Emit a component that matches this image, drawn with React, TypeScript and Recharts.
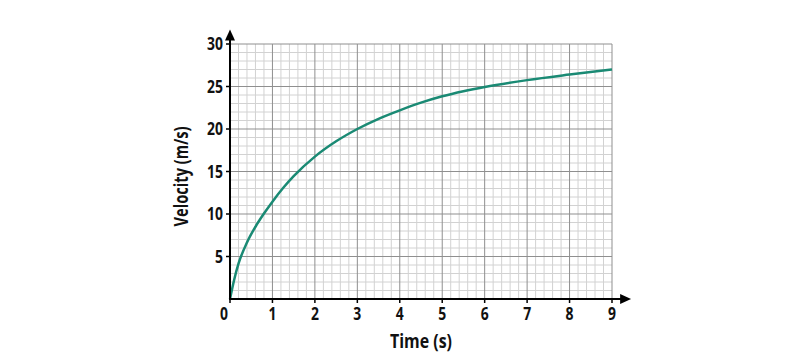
import React from 'react';
import { LineChart, Line, XAxis, YAxis, ReferenceLine } from 'recharts';

const timeS = [0, 0.1, 0.2, 0.4, 0.6, 0.8, 1, 1.25, 1.5, 2, 2.5, 3, 3.5, 4, 4.5, 5, 5.5, 6, 7, 8, 9];
const velocity = [0, 2.3, 4.15, 6.65, 8.5, 10.05, 11.45, 13.05, 14.45, 16.75, 18.55, 20.0, 21.2, 22.2, 23.1, 23.85, 24.45, 24.95, 25.75, 26.4, 27.0];
const xTicks = [0, 1, 2, 3, 4, 5, 6, 7, 8, 9];
const yTicks = [5, 10, 15, 20, 25, 30];

const data = timeS.map((t, i) => ({ t, v: velocity[i] }));

const xMinor: number[] = [];
for (let i = 1; i <= 45; i++) if (i % 5 !== 0) xMinor.push(i / 5);
const yMinor: number[] = [];
for (let i = 1; i <= 30; i++) if (i % 5 !== 0) yMinor.push(i);
const xMajor = xTicks.filter((v) => v > 0);
const yMajor = yTicks;

const FONT = "'Open Sans', 'Noto Sans', 'DejaVu Sans', sans-serif";
const MINOR = '#d2d2d2';
const MAJOR = '#8f8f8f';
const CURVE = '#1a8a74';
const TEXT = '#111';

const XTick = (props: any) => {
  const { x, y, payload } = props;
  const dx = payload.value === 0 ? -6 : 0;
  return (
    <text
      transform={`translate(${x + dx} ${y + 15}) scale(0.82 1)`}
      x={0}
      y={0}
      textAnchor="middle"
      fontFamily={FONT}
      fontWeight="bold"
      fontSize={17}
      fill={TEXT}
    >
      {payload.value}
    </text>
  );
};

const YTick = (props: any) => {
  const { x, y, payload } = props;
  return (
    <text
      transform={`translate(${x} ${y + 6}) scale(0.82 1)`}
      x={0}
      y={0}
      textAnchor="end"
      fontFamily={FONT}
      fontWeight="bold"
      fontSize={17}
      fill={TEXT}
    >
      {payload.value}
    </text>
  );
};

const HArrow = (p: any) => {
  const { x1, y1, x2 } = p;
  return (
    <g>
      <line x1={x1 - 1} y1={y1} x2={x2 - 8} y2={y1} stroke="#000" strokeWidth={2} />
      <polygon points={`${x2},${y1} ${x2 - 11},${y1 - 5} ${x2 - 11},${y1 + 5}`} fill="#000" />
    </g>
  );
};

const VArrow = (p: any) => {
  const { x1, y1, y2 } = p;
  const top = Math.min(y1, y2);
  const bottom = Math.max(y1, y2);
  return (
    <g>
      <line x1={x1} y1={bottom + 1} x2={x1} y2={top + 8} stroke="#000" strokeWidth={2} />
      <polygon points={`${x1},${top} ${x1 - 5},${top + 11} ${x1 + 5},${top + 11}`} fill="#000" />
    </g>
  );
};

export default function App() {
  return (
    <LineChart width={784} height={356} data={data} margin={{ top: 36, right: 180, bottom: 35, left: 182 }}>
      <XAxis
        dataKey="t"
        type="number"
        domain={[0, 9]}
        ticks={xTicks}
        axisLine={false}
        tickLine={{ stroke: '#000', strokeWidth: 1.5 }}
        tickSize={4}
        tickMargin={2}
        tick={<XTick />}
        height={30}
        interval={0}
        label={{
          content: (lp: any) => {
            const vb = lp.viewBox;
            return (
              <text
                x={vb.x + vb.width / 2 - 31}
                y={340}
                textLength={62}
                lengthAdjust="spacingAndGlyphs"
                fontFamily={FONT}
                fontWeight="bold"
                fontSize={20}
                fill={TEXT}
              >
                Time (s)
              </text>
            );
          },
        }}
      />
      <YAxis
        type="number"
        domain={[0, 30]}
        ticks={yTicks}
        axisLine={false}
        tickLine={{ stroke: '#000', strokeWidth: 1.5 }}
        tickSize={4}
        tickMargin={3}
        tick={<YTick />}
        width={40}
        interval={0}
        label={{
          content: (lp: any) => {
            const vb = lp.viewBox;
            const cx = 180;
            const cy = vb.y + vb.height / 2 + 5;
            return (
              <text
                x={cx - 50}
                y={cy}
                transform={`rotate(-90 ${cx} ${cy})`}
                textLength={100}
                lengthAdjust="spacingAndGlyphs"
                fontFamily={FONT}
                fontWeight="bold"
                fontSize={20}
                fill={TEXT}
              >
                Velocity (m/s)
              </text>
            );
          },
        }}
      />
      {xMinor.map((v) => (
        <ReferenceLine key={'xm' + v} x={v} stroke={MINOR} strokeWidth={1} />
      ))}
      {yMinor.map((v) => (
        <ReferenceLine key={'ym' + v} y={v} stroke={MINOR} strokeWidth={1} />
      ))}
      {xMajor.map((v) => (
        <ReferenceLine key={'xM' + v} x={v} stroke={MAJOR} strokeWidth={1} />
      ))}
      {yMajor.map((v) => (
        <ReferenceLine key={'yM' + v} y={v} stroke={MAJOR} strokeWidth={1} />
      ))}
      <Line
        type="monotone"
        dataKey="v"
        stroke={CURVE}
        strokeWidth={2.5}
        dot={false}
        isAnimationActive={false}
      />
      <ReferenceLine
        segment={[{ x: 0, y: 0 }, { x: 9.45, y: 0 }]}
        ifOverflow="visible"
        shape={<HArrow />}
      />
      <ReferenceLine
        segment={[{ x: 0, y: 0 }, { x: 0, y: 31.7 }]}
        ifOverflow="visible"
        shape={<VArrow />}
      />
    </LineChart>
  );
}
